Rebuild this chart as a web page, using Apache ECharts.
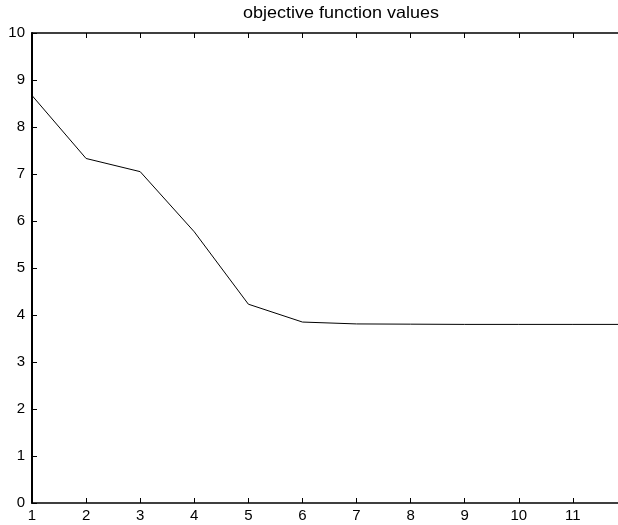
<!DOCTYPE html>
<html>
<head>
<meta charset="utf-8">
<script src="https://cdn.jsdelivr.net/npm/echarts@6/dist/echarts.min.js"></script>
<style>html,body{margin:0;padding:0;background:#fff;overflow:hidden;width:618px;height:525px;}#c{width:640px;height:525px;}</style>
</head>
<body>
<div id="c"></div>
<script>
var titleText = 'objective function values';
var iterations = [1, 2, 3, 4, 5, 6, 7, 8, 9, 10, 11, 12];
var objectiveValues = [8.67, 7.33, 7.05, 5.77, 4.23, 3.85, 3.81, 3.805, 3.80, 3.80, 3.80, 3.80];
var xTickLabels = ['1','2','3','4','5','6','7','8','9','10','11'];
var yTickLabels = ['0','1','2','3','4','5','6','7','8','9','10'];

var chart = echarts.init(document.getElementById('c'));
var font = 'Liberation Sans, Arial, Helvetica, sans-serif';
chart.setOption({
  animation: false,
  backgroundColor: '#fff',
  graphic: [{
    type: 'text', left: 243, top: 5, scaleX: 1.09,
    style: {text: titleText, font: 'normal 16.5px ' + font, fill: '#000'}
  }],
  grid: {left: 32, right: 13, top: 33, bottom: 22, containLabel: false},
  xAxis: [{
    type: 'value', min: 1, max: 12, interval: 1, position: 'bottom',
    axisLine: {show: true, lineStyle: {color: '#000', width: 1.5}},
    axisTick: {show: true, inside: true, length: 5, lineStyle: {color: '#000'}},
    axisLabel: {fontFamily: font, fontSize: 15, color: '#000', margin: 5,
      formatter: function (v) { var i = xTickLabels.indexOf(String(v)); return i >= 0 ? xTickLabels[i] : ''; }},
    splitLine: {show: false}
  }, {
    type: 'value', min: 1, max: 12, interval: 1, position: 'top',
    axisLine: {show: true, lineStyle: {color: '#000', width: 1.5}},
    axisTick: {show: true, inside: true, length: 5, lineStyle: {color: '#000'}},
    axisLabel: {show: false}, splitLine: {show: false}
  }],
  yAxis: {
    type: 'value', min: 0, max: 10, interval: 1,
    axisLine: {show: true, lineStyle: {color: '#000', width: 2}},
    axisTick: {show: true, inside: true, length: 5, lineStyle: {color: '#000'}},
    axisLabel: {fontFamily: font, fontSize: 15, color: '#000', margin: 7,
      formatter: function (v) { return yTickLabels[v]; }},
    splitLine: {show: false}
  },
  series: [{
    type: 'line', xAxisIndex: 0, showSymbol: false, symbol: 'none',
    data: iterations.map(function (x, i) { return [x, objectiveValues[i]]; }),
    lineStyle: {color: '#000', width: 1}
  }]
});
</script>
</body>
</html>
